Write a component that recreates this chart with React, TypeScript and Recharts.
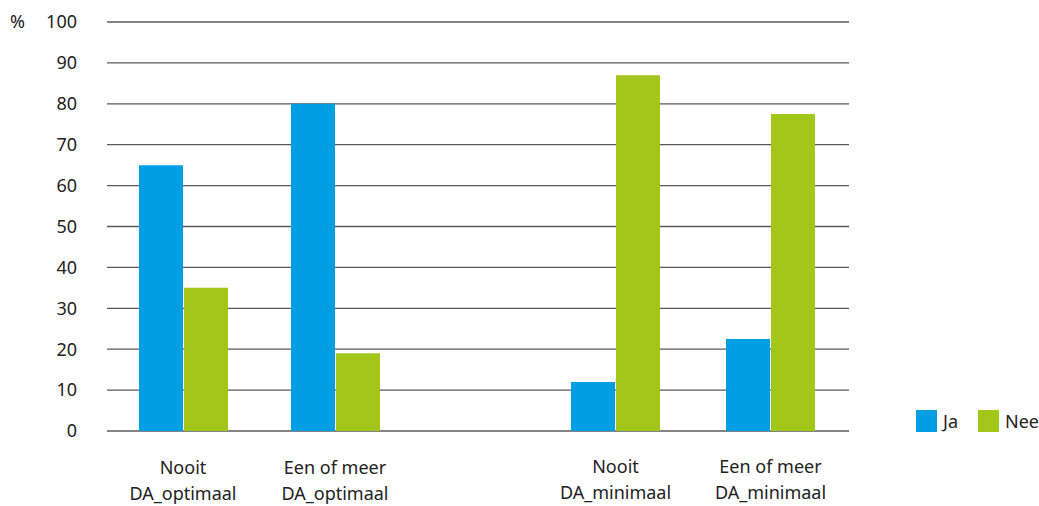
import React from "react";
import { BarChart, Bar, XAxis, YAxis, CartesianGrid } from "recharts";

// Survey outcome per group, in percent
const categories = [
  "Nooit\nDA_optimaal",
  "Een of meer\nDA_optimaal",
  "Nooit\nDA_minimaal",
  "Een of meer\nDA_minimaal",
];
const jaValues = [65, 80, 12, 22.5];
const neeValues = [35, 19, 87, 77.5];
const yTicks = [0, 10, 20, 30, 40, 50, 60, 70, 80, 90, 100];

const seriesNames = { ja: "Ja", nee: "Nee" };
const colors = { ja: "#009FE3", nee: "#A3C61A" };

// The optimal and minimal blocks sit on their own category axes so that the
// space between the two blocks can differ from the space inside a block.
const rows = [0, 1].map((i) => ({
  optLabel: categories[i],
  minLabel: categories[i + 2],
  jaOpt: jaValues[i],
  neeOpt: neeValues[i],
  jaMin: jaValues[i + 2],
  neeMin: neeValues[i + 2],
}));

const FONT = "'Noto Sans', 'DejaVu Sans', sans-serif";
const TEXT = "#222";

const CategoryTick = (props: any) => {
  const { x, y, payload } = props;
  const lines = String(payload.value).split("\n");
  return (
    <text x={x} y={y} textAnchor="middle" fontSize={18} fill={TEXT} fontFamily={FONT}>
      {lines.map((line, i) => (
        <tspan key={i} x={x} dy={i === 0 ? 42 : 26}>
          {line}
        </tspan>
      ))}
    </text>
  );
};

const LegendBox = () => (
  <div
    style={{
      position: "absolute",
      left: 916,
      top: 410,
      display: "flex",
      alignItems: "center",
      fontFamily: FONT,
      fontSize: 18,
      color: TEXT,
      lineHeight: "22px",
    }}
  >
    {(["ja", "nee"] as const).map((k, i) => (
      <div key={k} style={{ display: "flex", alignItems: "center", marginRight: i === 0 ? 20 : 0 }}>
        <span style={{ display: "inline-block", width: 21, height: 22, background: colors[k], marginRight: 6 }} />
        <span>{seriesNames[k]}</span>
      </div>
    ))}
  </div>
);

export default function App() {
  return (
    <div style={{ position: "absolute", left: 0, top: 0, width: 1039, height: 506, background: "#fff" }}>
      <div
        style={{
          position: "absolute",
          left: 10,
          top: 10,
          fontFamily: FONT,
          fontSize: 18,
          color: TEXT,
          lineHeight: "22px",
        }}
      >
        %
      </div>
      <BarChart
        width={1039}
        height={506}
        data={rows}
        margin={{ top: 22, right: 190, bottom: 73, left: 0 }}
        barGap={1}
      >
        <CartesianGrid vertical={false} stroke="#5a5a5a" strokeWidth={1.3} xAxisId="opt" />
        <XAxis
          xAxisId="opt"
          dataKey="optLabel"
          height={1}
          axisLine={false}
          tickLine={false}
          tickSize={0}
          tickMargin={0}
          padding={{ left: 0, right: 438 }}
          tick={<CategoryTick />}
          interval={0}
        />
        <XAxis
          xAxisId="min"
          dataKey="minLabel"
          height={1}
          axisLine={false}
          tickLine={false}
          tickSize={0}
          tickMargin={0}
          padding={{ left: 431, right: 1 }}
          tick={<CategoryTick />}
          interval={0}
        />
        <YAxis
          width={107}
          domain={[0, 100]}
          ticks={yTicks}
          interval={0}
          axisLine={false}
          tickLine={false}
          tickSize={0}
          tickMargin={30}
          tick={{ fontSize: 18, fill: TEXT, fontFamily: FONT }}
        />
        <Bar xAxisId="opt" dataKey="jaOpt" name={seriesNames.ja} fill={colors.ja} barSize={44} isAnimationActive={false} />
        <Bar xAxisId="opt" dataKey="neeOpt" name={seriesNames.nee} fill={colors.nee} barSize={44} isAnimationActive={false} />
        <Bar xAxisId="min" dataKey="jaMin" name={seriesNames.ja} fill={colors.ja} barSize={44} isAnimationActive={false} />
        <Bar xAxisId="min" dataKey="neeMin" name={seriesNames.nee} fill={colors.nee} barSize={44} isAnimationActive={false} />
      </BarChart>
      <LegendBox />
    </div>
  );
}
